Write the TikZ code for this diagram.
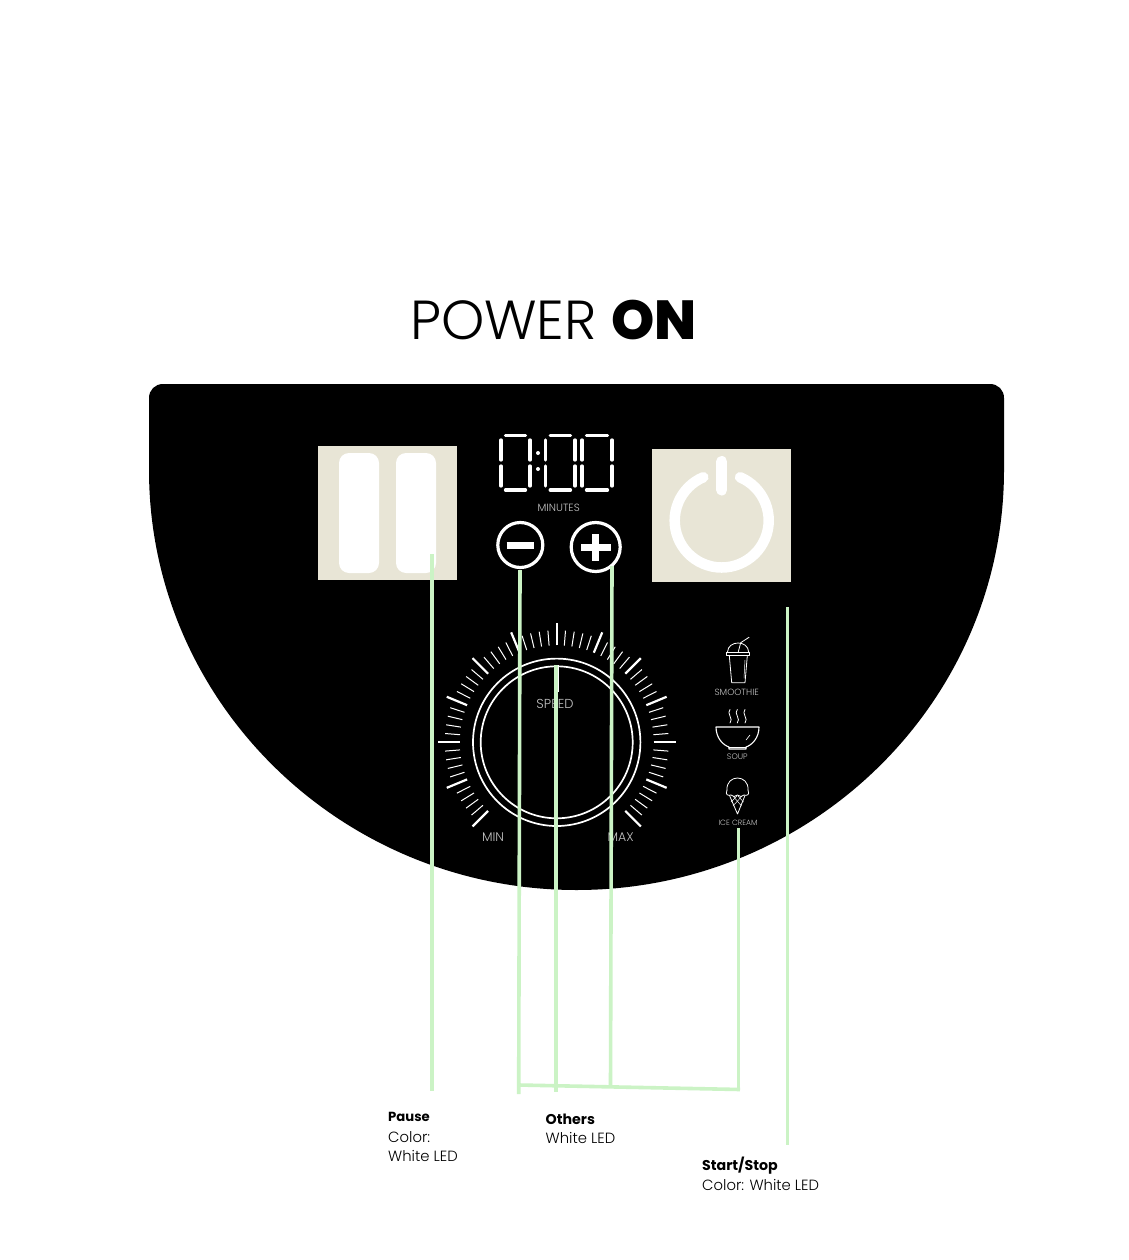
\documentclass[tikz,border=0pt]{standalone}
\usepackage{fontspec}
\usetikzlibrary{calc}
\setmainfont{Poppins}
\newfontfamily\plight{Poppins Light}
\newfontfamily\pxbold{Poppins ExtraBold}
\definecolor{lead}{HTML}{CBF3C5}
\definecolor{panelbox}{HTML}{E8E5D6}
\definecolor{faint}{HTML}{C4C4C4}
\tikzset{
  leadline/.style={draw=lead,line width=3.6pt},
  seg/.style={draw=white,line width=3.3pt,line cap=round},
  iconline/.style={draw=white,line width=0.8pt,line join=round,line cap=round},
  tick/.style={draw=white,line width=1pt},
  majortick/.style={draw=white,line width=2.2pt},
  tinylabel/.style={text=faint,font=\plight\fontsize{9.5}{10}\selectfont,inner sep=0pt,anchor=center},
  dial label/.style={text=faint,font=\plight\fontsize{12.5}{13}\selectfont,inner sep=0pt,anchor=center},
  caption/.style={text=black,anchor=base west,inner sep=0pt,font=\plight\fontsize{14.8}{16}\selectfont},
  captionhead/.style={caption,font=\bfseries\fontsize{14.2}{16}\selectfont},
}
\newcommand{\digitat}[2]{% left x, right x
  \draw[seg] (#1+4.5,435.5) -- (#2-4.5,435.5);
  \draw[seg] (#1+4.5,490) -- (#2-4.5,490);
  \draw[seg] (#1,440) -- (#1,460);
  \draw[seg] (#1,466) -- (#1,486);
  \draw[seg] (#2,440) -- (#2,460);
  \draw[seg] (#2,466) -- (#2,486);
}
\begin{document}
\begin{tikzpicture}[x=1pt,y=-1pt]
\useasboundingbox[fill=white] (0,0) rectangle (1128,1260);

\node[anchor=base,inner sep=0pt] (title) at (553.5,339) {\fontsize{55}{60}\selectfont{\plight POWER} {\pxbold ON}};

% panel
\fill[black] (163,384) -- (990,384) .. controls (998,384) and (1004,390) .. (1004,398)
  -- (1004,470) .. controls (1004,702) and (812,890) .. (576.5,890)
  .. controls (341,890) and (149,702) .. (149,470) -- (149,398)
  .. controls (149,390) and (155,384) .. (163,384) -- cycle;

% pause
\fill[panelbox] (317.5,446) rectangle (457,579.5);
\fill[white,rounded corners=10pt] (339,453) rectangle (379,573);
\fill[white,rounded corners=10pt] (396,453) rectangle (436,573);

% power
\fill[panelbox] (651.7,449) rectangle (791,582);
\draw[white,line width=10.5pt,line cap=round] (721.7,520.5) ++(-67:47) arc[start angle=-67,end angle=247,radius=47];
\draw[white,line width=11pt,line cap=round] (721.7,461.5) -- (721.7,490);

% timer
\digitat{501}{530}
\digitat{545.7}{575}
\digitat{582}{612}
\fill[white] (538,453) circle (2);
\fill[white] (538,469) circle (2);
\node[tinylabel,font=\plight\fontsize{10.5}{11}\selectfont] (minutes) at (558.7,508) {MINUTES};

% minus / plus
\draw[white,line width=3.2pt] (520.3,545) circle (22.5);
\draw[white,line width=7pt] (506.7,545.3) -- (534,545.3);
\draw[white,line width=3.2pt] (595.7,547) circle (24.5);
\draw[white,line width=7pt] (581,547) -- (610.7,547);
\draw[white,line width=7pt] (595.7,534) -- (595.7,561);

% dial
\coordinate (dial) at (556.7,742.3);
\foreach \i in {-29,...,29}{
  \pgfmathtruncatemacro{\m}{mod(abs(\i),5)}
  \ifnum\m=0\else
    \draw[tick] ($(dial)+({-90+4.5*\i}:97)$) -- ($(dial)+({-90+4.5*\i}:112)$);
  \fi
}
\foreach \i in {-30,-25,...,30}{
  \draw[majortick] ($(dial)+({-90+4.5*\i}:97)$) -- ($(dial)+({-90+4.5*\i}:119)$);
}
\draw[white,line width=1.7pt] (dial) circle (83.7);
\draw[white,line width=1.7pt] (dial) circle (76);
\draw[white,line width=1.7pt] (558,665) -- (558,692);
\node[tinylabel,font=\plight\fontsize{13}{14}\selectfont] (speed) at (555,703.7) {SPEED};
\node[dial label] (minl) at (493,836.7) {MIN};
\node[dial label] (maxl) at (620.7,836.7) {MAX};

% smoothie
\draw[iconline] (729.3,655.7) -- (731.7,682.7) -- (745,682.7) -- (747.3,655.7);
\draw[iconline] (726.7,652) rectangle (749.7,655.3);
\draw[iconline] (727.5,652) .. controls (728,640) and (748,640) .. (748.7,652);
\draw[iconline] (738.3,651.7) -- (740.7,642.7) -- (749,637.3);
\draw[iconline,line width=0.5pt] (745,660) -- (744,678);
\node[tinylabel,font=\plight\fontsize{9}{10}\selectfont] (smoothie) at (736.7,692.5) {SMOOTHIE};

% soup
\foreach \sx in {730,737.3,745}{
  \draw[iconline] (\sx,709.5) .. controls (\sx-4,713) and (\sx+4,719) .. (\sx,723);
}
\draw[iconline,line width=1.1pt] (716,727) -- (759,727) .. controls (759,738) and (752,745) .. (746,747) -- (746,749) -- (729,749) -- (729,747) .. controls (723,745) and (716,738) .. (716,727) -- cycle;
\draw[iconline] (729,747) -- (746,747);
\draw[iconline,line width=0.6pt] (750,735) -- (746,740);
\node[tinylabel,font=\plight\fontsize{8}{9}\selectfont] (soup) at (737.3,757) {SOUP};

% ice cream
\draw[iconline] (727,790) .. controls (726,774) and (749,774) .. (748,790);
\draw[iconline] (727,790) .. controls (725,795) and (728,796) .. (731,795) .. controls (733,797) and (735,797) .. (737.5,795) .. controls (740,797) and (742,797) .. (744,795) .. controls (747,796) and (750,795) .. (748,790);
\draw[iconline] (729.5,795.5) -- (737.5,814) -- (745,795.5);
\draw[iconline,line width=0.5pt] (733,796) -- (741.5,806);
\draw[iconline,line width=0.5pt] (738,796) -- (743.5,802);
\draw[iconline,line width=0.5pt] (742,796) -- (733,806);
\draw[iconline,line width=0.5pt] (737,796) -- (731,802);
\node[tinylabel,font=\plight\fontsize{7.6}{9}\selectfont] (icecream) at (738,823) {ICE CREAM};

% leader ends
\coordinate (pauseTop) at (432,554);
\coordinate (pauseEnd) at (432,1091);
\coordinate (minusTop) at (520,570);
\coordinate (minusEnd) at (518.7,1094);
\coordinate (speedTop) at (556,665);
\coordinate (speedEnd) at (556,1092);
\coordinate (plusTop) at (612,566);
\coordinate (plusEnd) at (610.5,1087);
\coordinate (iceTop) at (738.5,828);
\coordinate (iceEnd) at (738.5,1090);
\coordinate (busL) at (518.7,1085);
\coordinate (busR) at (740,1089.5);
\coordinate (startTop) at (787.5,607);
\coordinate (startEnd) at (787.5,1145);
\draw[leadline] (pauseTop) -- (pauseEnd);
\draw[leadline] (minusTop) -- (minusEnd);
\draw[leadline] (speedTop) -- (speedEnd);
\draw[leadline] (plusTop) -- (plusEnd);
\draw[leadline] (iceTop) -- (iceEnd);
\draw[leadline] (busL) -- (busR);
\draw[leadline] (startTop) -- (startEnd);

% captions
\node[captionhead,font=\bfseries\fontsize{13.2}{16}\selectfont] (c1a) at (388,1121.7) {Pause};
\node[caption] (c1b) at (388,1142) {Color:};
\node[caption] (c1c) at (388,1161) {White LED};
\node[captionhead] (c2a) at (545.5,1124) {Others};
\node[caption] (c2b) at (545.5,1143.3) {White LED};
\node[captionhead] (c3a) at (702,1170) {Start/Stop};
\node[caption] (c3b) at (702,1190) {Color: White LED};
\end{tikzpicture}
\end{document}
